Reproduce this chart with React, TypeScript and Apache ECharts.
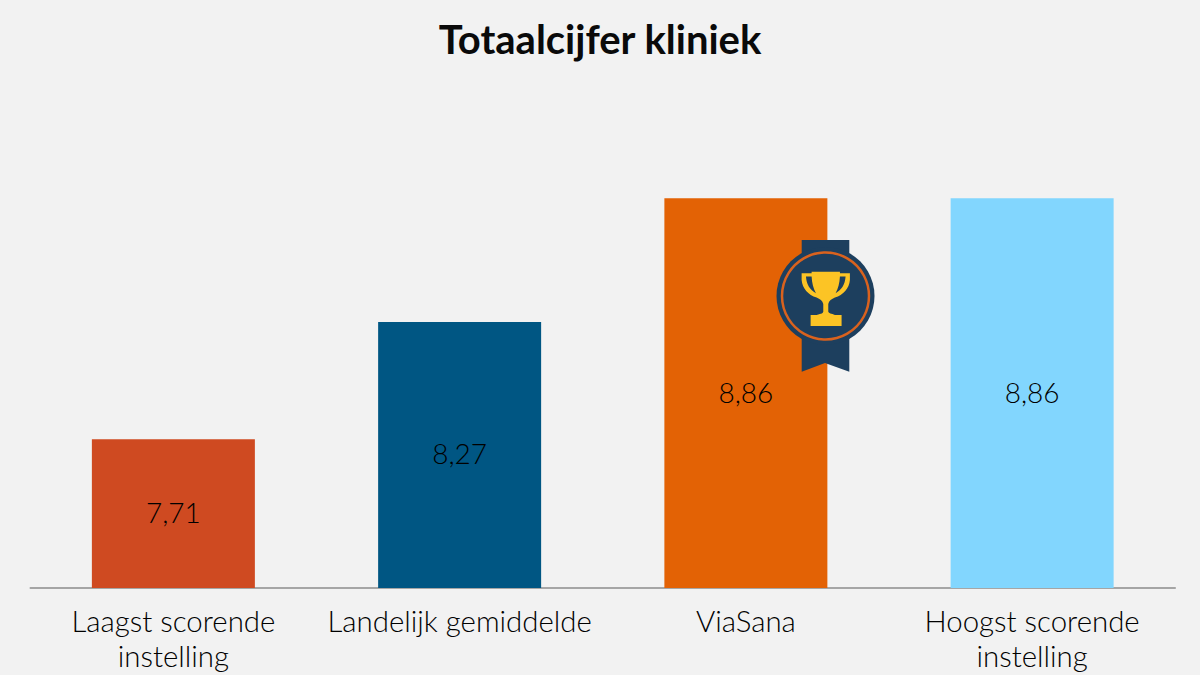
import React, { useEffect, useRef } from "react";
import * as echarts from "echarts";

const categories = ["Laagst scorende\ninstelling", "Landelijk gemiddelde", "ViaSana", "Hoogst scorende\ninstelling"];
const values = [7.71, 8.27, 8.86, 8.86];
const barColors = ["#CF4A21", "#005683", "#E36205", "#82D6FE"];
const titleText = "Totaalcijfer kliniek";

const trophyPath =
  "M155 125 H240 V130 H270 V150 C268 175 250 195 225 203 C215 208 207 212 205 222 V245 C205 250 215 252 225 255 H245 V288 H152 V255 H170 C185 252 190 250 190 245 V222 C188 212 180 208 170 203 C145 195 127 175 125 150 V130 H155 Z " +
  "M138 140 C140 165 150 180 168 190 C160 175 156 160 155 140 Z " +
  "M257 140 H240 C239 160 235 175 227 190 C245 180 255 165 257 140 Z";
echarts.graphic.registerShape("trophy", (echarts.graphic as any).extendPath(trophyPath, {}));

export default function App() {
  const ref = useRef<HTMLDivElement>(null);
  useEffect(() => {
    document.body.style.margin = "0";
    const chart = echarts.init(ref.current!, undefined, { renderer: "svg" });
    chart.setOption({
      animation: false,
      backgroundColor: "#F2F2F2",
      textStyle: { fontFamily: "Lato" },
      title: {
        text: titleText,
        left: "center",
        top: 14,
        textStyle: { fontFamily: "Lato", fontSize: 40, fontWeight: "bold", color: "#0A0A0A" },
      },
      grid: { left: 30.25, right: 24.75, top: 169, bottom: 87 },
      xAxis: {
        type: "category",
        data: categories,
        axisTick: { show: false },
        axisLine: { lineStyle: { color: "#8C8C8C", width: 1.5 } },
        axisLabel: { fontFamily: "Lato", fontSize: 29.4, fontWeight: 300, color: "#000000", lineHeight: 35, margin: 14.5, interval: 0 },
      },
      yAxis: { type: "value", min: 7, max: 9, show: false, splitLine: { show: false } },
      series: [
        {
          type: "bar",
          barWidth: 163,
          data: values.map((v, i) => ({ value: v, itemStyle: { color: barColors[i] } })),
          label: {
            show: true,
            position: "inside",
            offset: [0, -1.5],
            fontFamily: "Lato",
            fontSize: 28,
            fontWeight: 300,
            color: "#000000",
            formatter: (p: any) => String(p.value.toFixed(2)).replace(".", ","),
          },
        },
      ],
      graphic: [
        {
          type: "polygon",
          z: 100,
          shape: { points: [[801.7, 240], [849.3, 240], [849.3, 371.7], [825, 363], [801.7, 371.7]] },
          style: { fill: "#1D3F5E" },
        },
        { type: "circle", z: 101, shape: { cx: 825.5, cy: 296, r: 49 }, style: { fill: "#1D3F5E" } },
        {
          type: "circle",
          z: 102,
          shape: { cx: 825.5, cy: 296, r: 43.5 },
          style: { fill: "none", stroke: "#D9621E", lineWidth: 2.5 },
        },
        { type: "trophy", z: 103, x: 760, y: 230, scaleX: 1 / 3, scaleY: 1 / 3, style: { fill: "#FCC425" } },
      ],
    });
    return () => chart.dispose();
  }, []);
  return <div ref={ref} style={{ width: 1200, height: 675 }} />;
}
